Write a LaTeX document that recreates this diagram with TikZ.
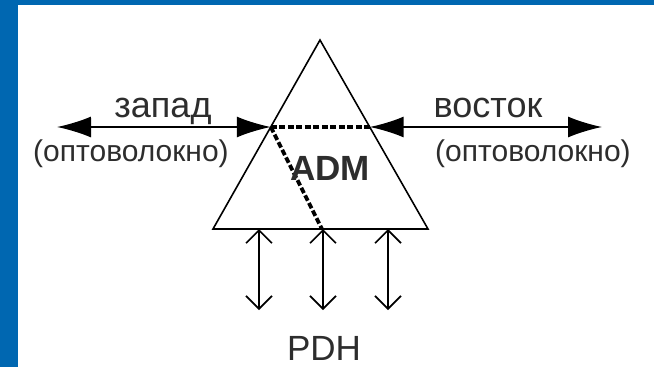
\documentclass[tikz,border=0pt]{standalone}
\usepackage{fontspec}
\setmainfont{Liberation Sans}
\usetikzlibrary{arrows.meta,calc}
\definecolor{frameblue}{RGB}{0,103,177}
\definecolor{txt}{RGB}{45,45,45}
\begin{document}
\begin{tikzpicture}[x=1pt,y=-1pt,
  edge/.style={line width=1.6pt},
  fatarrow/.style={edge, {Latex[length=34pt,width=21pt]}-{Latex[length=34pt,width=21pt]}},
  thinarrow/.style={edge, {Straight Barb[length=13pt,width=26pt,line width=1.6pt]}-{Straight Barb[length=13pt,width=26pt,line width=1.6pt]}},
  dashpath/.style={line width=3.8pt, dash pattern=on 6pt off 2.5pt},
  lbl/.style={text=txt, inner sep=0pt, anchor=base}
]
\useasboundingbox (0,0) rectangle (654,367);
\fill[white] (0,0) rectangle (654,367);
\fill[frameblue] (0,0) rectangle (18,367);
\fill[frameblue] (0,0) rectangle (654,5);

% triangle
\coordinate (A) at (320,40);
\coordinate (BL) at (213,229);
\coordinate (BR) at (428,229);
\draw[edge, line join=miter] (A) -- (BL) -- (BR) -- cycle;

\coordinate (PL) at ($(A)!0.4603!(BL)$);
\coordinate (PR) at ($(A)!0.4603!(BR)$);
\coordinate (PB) at (322,229);

\draw[dashpath] (PL) -- (PR);
\draw[dashpath] (PL) -- (PB);

% east / west
\coordinate (WL) at (57,127);
\coordinate (EL) at (602,127);
\draw[fatarrow] (WL) -- (PL);
\draw[fatarrow] (PR) -- (EL);

% tributaries
\foreach \i/\x in {1/259,2/323,3/388}{
  \coordinate (T\i) at (\x,229);
  \coordinate (B\i) at (\x,310);
  \draw[thinarrow] (T\i) -- (B\i);
}

% labels
\node[lbl, font=\fontsize{36}{40}\selectfont] (zap) at (163,117) {запад};
\node[lbl, font=\fontsize{30}{34}\selectfont] (optl) at (131,161) {(оптоволокно)};
\node[lbl, font=\fontsize{36}{40}\selectfont] (vos) at (488,117) {восток};
\node[lbl, font=\fontsize{30}{34}\selectfont] (optr) at (533,161) {(оптоволокно)};
\node[lbl, font=\fontsize{35}{40}\selectfont\bfseries] (adm) at (330,180) {ADM};
\node[lbl, font=\fontsize{35}{40}\selectfont] (pdh) at (324,360) {PDH};
\end{tikzpicture}
\end{document}
